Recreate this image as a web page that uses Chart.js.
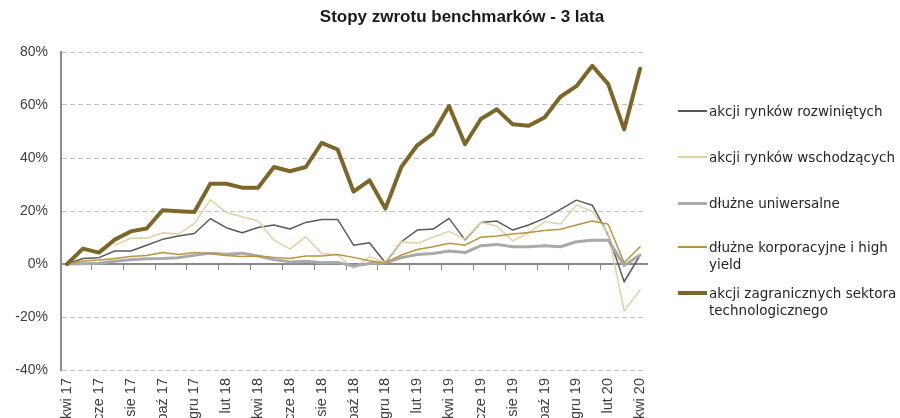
<!DOCTYPE html>
<html lang="pl">
<head>
<meta charset="utf-8">
<script src="https://cdn.jsdelivr.net/npm/chart.js@4.4.1/dist/chart.umd.min.js"></script>
<style>
html, body { margin: 0; padding: 0; background: #fff; overflow: hidden; }
#wrap { position: relative; width: 900px; height: 418px; }
#tytul { position: absolute; left: 0; top: 7px; width: 924px; text-align: center;
  font: bold 17px "Liberation Sans Narrow", "Liberation Sans", sans-serif; color: #1a1a1a; }
#leyenda { position: absolute; left: 678px; top: 0; width: 222px; height: 418px; }
.item { position: absolute; left: 0; width: 222px; font: 13.5px "DejaVu Sans", sans-serif;
  color: #262626; line-height: 17px; white-space: pre; }
.linea { position: absolute; left: 0; top: 8px; width: 29px; }
.txt { position: absolute; left: 31px; top: 0; }
</style>
</head>
<body>
<div id="wrap">
  <canvas id="myChart" width="900" height="418"></canvas>
  <div id="tytul">Stopy zwrotu benchmarków - 3 lata</div>
  <div id="leyenda"></div>
</div>
<script>
// miesiace kwi 17 .. kwi 20
var meses = ['kwi 17','maj 17','cze 17','lip 17','sie 17','wrz 17','paź 17','lis 17','gru 17',
  'sty 18','lut 18','mar 18','kwi 18','maj 18','cze 18','lip 18','sie 18','wrz 18','paź 18','lis 18','gru 18',
  'sty 19','lut 19','mar 19','kwi 19','maj 19','cze 19','lip 19','sie 19','wrz 19','paź 19','lis 19','gru 19',
  'sty 20','lut 20','mar 20','kwi 20'];

var rozwiniete = [0, 2.1, 2.4, 4.9, 4.9, 7.1, 9.3, 10.6, 11.5, 17.1, 13.7, 11.8, 13.8, 14.7, 13.2, 15.7, 16.8, 16.8,
  7.1, 8.0, 0.5, 8.4, 12.8, 13.2, 17.2, 9.1, 15.7, 16.2, 12.8, 14.7, 17.2, 20.6, 24.1, 22.2, 11, -6.7, 3.3];
var wschodzace = [null, null, null, 7.1, 9.7, 9.7, 11.8, 11.3, 15.3, 24.3, 19.4, 17.8, 16.2, 9.0, 5.6, 10.3, 4.0, 3.5,
  -1.7, 2.7, 0.8, 8.4, 7.8, 10.1, 12.3, 9.4, 15.7, 14.3, 8.7, 11.8, 15.9, 15.1, 22.3, 19.8, 11.6, -17.7, -9.8];
var uniwersalne = [0, 0.1, 0.3, 1.0, 1.6, 2.0, 2.1, 2.4, 3.3, 4.1, 3.7, 4.1, 3.0, 1.7, 0.8, 1.0, 0.5, 0.6,
  -0.8, 0.2, 0.4, 2.4, 3.6, 4.0, 4.9, 4.3, 6.9, 7.4, 6.5, 6.5, 6.9, 6.5, 8.4, 9.0, 9.0, -0.6, 3.4];
var korporacyjne = [0, 1.1, 1.5, 2.1, 2.8, 3.2, 4.3, 3.6, 4.3, 4.0, 3.2, 2.8, 3.0, 2.5, 2.1, 3.0, 3.0, 3.6,
  2.5, 1.2, 0.4, 3.4, 5.5, 6.5, 7.8, 7.1, 10.1, 10.6, 11.3, 11.9, 12.6, 13.1, 14.7, 16.2, 15.0, 0.5, 6.5];
var technologia = [0, 5.8, 4.3, 9.2, 12.3, 13.4, 20.3, 19.9, 19.6, 30.3, 30.3, 28.8, 28.8, 36.6, 35.0, 36.6, 45.7, 43.2,
  27.3, 31.6, 20.9, 36.6, 44.8, 49.2, 59.6, 45.2, 54.7, 58.4, 52.7, 52.2, 55.3, 63.1, 67.1, 74.8, 67.9, 50.8, 73.7];

var nombres = ['akcji rynków rozwiniętych', 'akcji rynków wschodzących', 'dłużne uniwersalne',
  'dłużne korporacyjne i high\nyield', 'akcji zagranicznych sektora\ntechnologicznego'];
var series = [rozwiniete, wschodzace, uniwersalne, korporacyjne, technologia];
var colores = ['#5a5a5a', '#e4d1a2', '#a9a9a9', '#b8963c', '#7d6728'];
var grosor = [1.5, 1.5, 3, 1.5, 4];
var yTicks = [-40, -20, 0, 20, 40, 60, 80];

function puntos(arr) {
  return arr.map(function (v, i) { return { x: i, y: v }; });
}

var datasets = series.map(function (s, k) {
  return {
    label: nombres[k],
    data: puntos(s),
    borderColor: colores[k],
    borderWidth: grosor[k],
    pointRadius: 0,
    tension: 0,
    borderJoinStyle: 'round',
    borderCapStyle: 'round',
    spanGaps: false,
    order: series.length - 1 - k
  };
});

// os 0% z kreskami pod spodem
var ejeCero = {
  id: 'ejeCero',
  beforeDatasetsDraw: function (chart) {
    var ctx = chart.ctx, a = chart.chartArea;
    var y0 = chart.scales.y.getPixelForValue(0);
    ctx.save();
    ctx.strokeStyle = '#898989';
    ctx.lineWidth = 2;
    ctx.beginPath();
    ctx.moveTo(a.left, y0);
    ctx.lineTo(a.right + 3, y0);
    ctx.stroke();
    ctx.lineWidth = 1;
    for (var t = 1.5; t < 35; t += 2) {
      var x = Math.round(chart.scales.x.getPixelForValue(t)) + 0.5;
      ctx.beginPath();
      ctx.moveTo(x, y0);
      ctx.lineTo(x, y0 + 6);
      ctx.stroke();
    }
    ctx.restore();
  }
};

var ctx = document.getElementById('myChart').getContext('2d');
var chart = new Chart(ctx, {
  type: 'line',
  data: { datasets: datasets },
  plugins: [ejeCero],
  options: {
    responsive: false,
    animation: false,
    layout: { padding: { top: 52, right: 255, left: 0, bottom: 0 } },
    plugins: { legend: { display: false }, title: { display: false }, tooltip: { enabled: false } },
    scales: {
      x: {
        type: 'linear',
        min: -0.38,
        max: 36.31,
        afterFit: function (s) { s.height = 48; },
        afterBuildTicks: function (s) {
          var t = [];
          for (var i = 0; i < meses.length; i += 2) t.push({ value: i });
          s.ticks = t;
        },
        grid: { display: false, drawTicks: false },
        border: { display: false },
        ticks: {
          autoSkip: false,
          minRotation: 90,
          maxRotation: 90,
          padding: 8,
          color: '#404040',
          font: { family: 'Liberation Sans', size: 14.5 },
          callback: function (v) { return meses[v]; }
        }
      },
      y: {
        min: -40,
        max: 80,
        afterFit: function (s) { s.width = 61; },
        afterBuildTicks: function (s) {
          s.ticks = yTicks.map(function (v) { return { value: v }; });
        },
        grid: { color: '#c0c0c0', lineWidth: 1, drawTicks: false },
        border: { display: true, color: '#8e8e8e', width: 2, dash: [5, 3] },
        ticks: {
          padding: 13,
          color: '#404040',
          font: { family: 'Liberation Sans', size: 14 },
          callback: function (v) { return v + '%'; }
        }
      }
    }
  }
});

// legenda po prawej
var leyenda = document.getElementById('leyenda');
var centros = [111, 157, 203, 247, 293];
for (var k = 0; k < nombres.length; k++) {
  var it = document.createElement('div');
  it.className = 'item';
  it.style.top = (centros[k] - 8.5) + 'px';
  var ln = document.createElement('div');
  ln.className = 'linea';
  ln.style.height = grosor[k] + 'px';
  ln.style.marginTop = (-grosor[k] / 2 + 0.5) + 'px';
  ln.style.background = colores[k];
  var tx = document.createElement('div');
  tx.className = 'txt';
  tx.textContent = nombres[k];
  it.appendChild(ln);
  it.appendChild(tx);
  leyenda.appendChild(it);
}
</script>
</body>
</html>
